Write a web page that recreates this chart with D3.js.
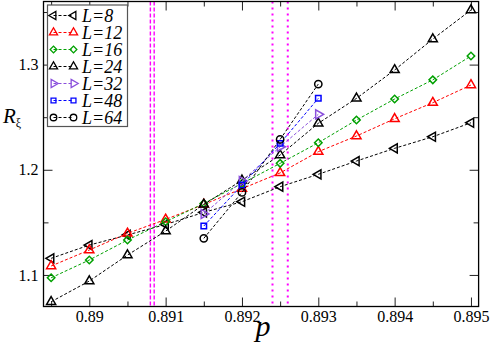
<!DOCTYPE html>
<html>
<head>
<meta charset="utf-8">
<script src="https://cdn.jsdelivr.net/npm/d3@7"></script>
<style>
  body { margin: 0; background: #fff; }
</style>
</head>
<body>
<div class="chart"></div>
<script>
// data
var pFull = [0.8895, 0.89, 0.8905, 0.891, 0.8915, 0.892, 0.8925, 0.893, 0.8935, 0.894, 0.8945, 0.895];
var pShort = [0.8915, 0.892, 0.8925, 0.893];
var r8  = [1.1158, 1.1284, 1.1380, 1.1480, 1.1595, 1.1696, 1.1839, 1.1957, 1.2083, 1.2204, 1.2314, 1.2447];
var r12 = [1.1085, 1.1237, 1.1395, 1.1528, 1.1670, 1.1820, 1.1970, 1.2172, 1.2321, 1.2485, 1.2638, 1.2806];
var r16 = [1.0973, 1.1142, 1.1332, 1.1506, 1.1680, 1.1870, 1.2061, 1.2257, 1.2473, 1.2673, 1.2855, 1.3082];
var r24 = [1.0745, 1.0942, 1.1189, 1.1417, 1.1670, 1.1900, 1.2140, 1.2442, 1.2679, 1.2949, 1.3243, 1.3519];
var r32 = [1.1580, 1.1893, 1.2219, 1.2527];
var r48 = [1.1465, 1.1855, 1.2251, 1.2679];
var r64 = [1.1348, 1.1785, 1.2289, 1.2815];
var labels = ["L=8", "L=12", "L=16", "L=24", "L=32", "L=48", "L=64"];
var dashedLines = [0.8908, 0.89085];   // vertical dashed
var dottedLines = [0.8924, 0.8926];    // vertical dotted
var xMajor = [0.89, 0.891, 0.892, 0.893, 0.894, 0.895];
var xMinor = [0.8895, 0.8905, 0.8915, 0.8925, 0.8935, 0.8945];
var yMajor = [1.1, 1.2, 1.3];
var yMinor = [1.15, 1.25, 1.35];

//svg dims (plot box)
var width = 491;
var height = 344;
var padL = 43.5, padR = 478.6, padT = 1.5, padB = 306.5;
var serif = "'Liberation Serif', 'Times New Roman', serif";

//series styling
var series = [
  { p: pFull,  r: r8,  color: "#000000", shape: "tri", rot: -90 },
  { p: pFull,  r: r12, color: "#ff0000", shape: "tri", rot: 0 },
  { p: pFull,  r: r16, color: "#00a000", shape: "diamond", rot: 45 },
  { p: pFull,  r: r24, color: "#000000", shape: "tri", rot: 0 },
  { p: pShort, r: r32, color: "#8a4fdc", shape: "tri", rot: 90 },
  { p: pShort, r: r48, color: "#0000ff", shape: "square", rot: 0 },
  { p: pShort, r: r64, color: "#000000", shape: "circle", rot: 0 }
];
series.forEach((s, i) => { s.label = labels[i]; });

var svg = d3.select(".chart")
            .append("svg")
            .attr("width", width)
            .attr("height", height);

var xScale = d3.scaleLinear().domain([0.8894, 0.8951]).range([padL, padR]);
var yScale = d3.scaleLinear().domain([1.07, 1.36]).range([padB, padT]);

function symbolPath(s, k) {
  var type = s.shape === "tri" ? d3.symbolTriangle
           : s.shape === "circle" ? d3.symbolCircle
           : d3.symbolSquare;
  var size = s.shape === "tri" ? 36 : s.shape === "circle" ? 42 : s.shape === "diamond" ? 28 : 30;
  return d3.symbol().type(type).size(size * (k || 1))();
}

//axes with inward ticks
function tickAxis(axis, values, len, labelled) {
  var a = axis.tickValues(values).tickSize(len).tickSizeOuter(0);
  if (!labelled) a.tickFormat("");
  return a;
}
var fmt = d => String(+d.toFixed(3));

svg.append("g").attr("transform", `translate(0, ${padB})`)
   .call(tickAxis(d3.axisBottom(xScale), xMajor, -9, true).tickFormat(fmt).tickPadding(4));
svg.append("g").attr("transform", `translate(0, ${padB})`)
   .call(tickAxis(d3.axisBottom(xScale), xMinor, -5, false));
svg.append("g").attr("transform", `translate(0, ${padT})`)
   .call(tickAxis(d3.axisTop(xScale), xMajor, -9, false));
svg.append("g").attr("transform", `translate(0, ${padT})`)
   .call(tickAxis(d3.axisTop(xScale), xMinor, -5, false));
svg.append("g").attr("transform", `translate(${padL}, 0)`)
   .call(tickAxis(d3.axisLeft(yScale), yMajor, -9, true).tickFormat(d3.format(".1f")).tickPadding(5));
svg.append("g").attr("transform", `translate(${padL}, 0)`)
   .call(tickAxis(d3.axisLeft(yScale), yMinor, -5, false));
svg.append("g").attr("transform", `translate(${padR}, 0)`)
   .call(tickAxis(d3.axisRight(yScale), yMajor, -9, false));
svg.append("g").attr("transform", `translate(${padR}, 0)`)
   .call(tickAxis(d3.axisRight(yScale), yMinor, -5, false));

svg.selectAll(".domain").remove();
svg.selectAll(".tick line").attr("stroke", "#222").attr("stroke-width", 1);
svg.selectAll(".tick text").attr("fill", "#000")
   .attr("font-family", serif).attr("font-size", 16);

//vertical reference lines
svg.append("g").selectAll("line")
   .data(dashedLines).enter().append("line")
   .attr("x1", d => xScale(d)).attr("x2", d => xScale(d))
   .attr("y1", padT).attr("y2", padB)
   .attr("stroke", "#ff00ff").attr("stroke-width", 1.4)
   .attr("stroke-dasharray", "4,2");
svg.append("g").selectAll("line")
   .data(dottedLines).enter().append("line")
   .attr("x1", d => xScale(d)).attr("x2", d => xScale(d))
   .attr("y1", padT).attr("y2", padB)
   .attr("stroke", "#ff00ff").attr("stroke-width", 2)
   .attr("stroke-dasharray", "2,4");

//series lines and markers
var line = d3.line().x(d => xScale(d[0])).y(d => yScale(d[1]));
series.forEach(s => {
  var pts = s.p.map((p, i) => [p, s.r[i]]);
  svg.append("path")
     .attr("d", line(pts))
     .attr("fill", "none")
     .attr("stroke", s.color)
     .attr("stroke-width", 1)
     .attr("stroke-dasharray", "3,2");
  svg.append("g").selectAll("path")
     .data(pts).enter().append("path")
     .attr("d", symbolPath(s))
     .attr("transform", d => `translate(${xScale(d[0])}, ${yScale(d[1])}) rotate(${s.rot})`)
     .attr("fill", "none")
     .attr("stroke", s.color)
     .attr("stroke-width", 1.5);
});

//frame
svg.append("rect")
   .attr("x", padL).attr("y", padT)
   .attr("width", padR - padL).attr("height", padB - padT)
   .attr("fill", "none").attr("stroke", "#000").attr("stroke-width", 1.3);

//legend
var legend = svg.append("g").attr("transform", "translate(47.5, 5)");
legend.append("rect")
      .attr("width", 80).attr("height", 121.5)
      .attr("fill", "#fff").attr("stroke", "#555").attr("stroke-width", 1.2);
var rows = legend.selectAll(".row")
      .data(series).enter().append("g")
      .attr("transform", (d, i) => `translate(0, ${10.5 + i * 17})`);
rows.append("line")
    .attr("x1", 6).attr("x2", 26).attr("y1", 0).attr("y2", 0)
    .attr("stroke", d => d.color).attr("stroke-dasharray", "3,2");
[6, 26].forEach(xx => {
  rows.append("path")
      .attr("d", d => symbolPath(d, 0.8))
      .attr("transform", d => `translate(${xx}, 0) rotate(${d.rot})`)
      .attr("fill", "none")
      .attr("stroke", d => d.color)
      .attr("stroke-width", 1.3);
});
rows.append("text")
    .attr("x", 34.5).attr("y", 6)
    .attr("font-family", serif).attr("font-size", 18).attr("font-style", "italic")
    .text(d => d.label);

//axis titles
svg.append("text")
   .attr("x", 263).attr("y", 336)
   .attr("text-anchor", "middle")
   .attr("font-family", serif).attr("font-size", 30).attr("font-style", "italic")
   .text("p");
var yt = svg.append("text").attr("x", 3).attr("y", 123).attr("font-family", serif);
yt.append("tspan").attr("font-size", 21).attr("font-style", "italic").text("R");
yt.append("tspan").attr("dy", 4).attr("font-size", 12).text("ξ");
</script>
</body>
</html>
